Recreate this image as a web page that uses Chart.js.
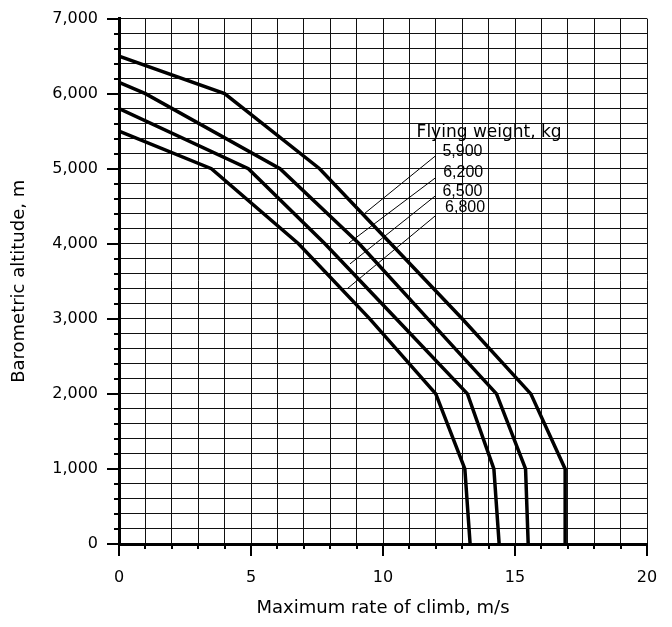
<!DOCTYPE html>
<html>
<head>
<meta charset="utf-8">
<script src="https://cdn.jsdelivr.net/npm/chart.js@4/dist/chart.umd.min.js"></script>
<style>
  html, body { margin: 0; padding: 0; background: #fff; }
  #wrap { width: 672px; height: 627px; }
</style>
</head>
<body>
<div id="wrap"><canvas id="climbChart"></canvas></div>
<script>
// curves: rate of climb (m/s) vs altitude (m), one per flying weight
const weights = ["5,900", "6,200", "6,500", "6,800"];
const rate5900 = [0, 4.0, 7.6, 10.3, 13.0, 15.6, 16.9, 16.9];
const alt5900  = [6500, 6000, 5000, 4000, 3000, 2000, 1000, 0];
const rate6200 = [0, 1.0, 6.1, 9.1, 11.7, 14.3, 15.4, 15.5];
const alt6200  = [6150, 6000, 5000, 4000, 3000, 2000, 1000, 0];
const rate6500 = [0, 4.9, 7.8, 10.5, 13.2, 14.2, 14.4];
const alt6500  = [5800, 5000, 4000, 3000, 2000, 1000, 0];
const rate6800 = [0, 3.5, 6.8, 9.5, 12.0, 13.1, 13.3];
const alt6800  = [5500, 5000, 4000, 3000, 2000, 1000, 0];

// leader lines from the weight labels to the curves
const leaderX = [[11.97, 9.32], [11.97, 8.71], [11.97, 8.75], [11.97, 8.64]];
const leaderY = [[5166, 4409], [4874, 4011], [4635, 3732], [4369, 3400]];
const labelX = [12.25, 12.28, 12.25, 12.35];
const labelY = [5226, 4947, 4701, 4482];
const legendTitle = "Flying weight, kg";
const legendTitlePos = [14.02, 5485];

const xTitle = "Maximum rate of climb, m/s";
const yTitle = "Barometric altitude, m";

function pts(xs, ys) {
    return xs.map((v, i) => ({x: v, y: ys[i]}));
}

const curves = [[rate5900, alt5900], [rate6200, alt6200], [rate6500, alt6500], [rate6800, alt6800]];
const datasets = [];
curves.forEach((c, i) => {
    datasets.push({
        label: weights[i],
        data: pts(c[0], c[1]),
        borderColor: '#000',
        borderWidth: 3.5,
        pointRadius: 0,
        tension: 0,
        borderJoinStyle: 'miter'
    });
});
leaderX.forEach((lx, i) => {
    datasets.push({
        label: 'leader' + i,
        data: pts(lx, leaderY[i]),
        borderColor: '#000',
        borderWidth: 1,
        pointRadius: 0
    });
});

// major/minor tick marks outside the axes
const tickMarks = {
    id: 'tickMarks',
    afterDraw(chart) {
        const ctx = chart.ctx;
        const xs = chart.scales.x, ys = chart.scales.y;
        ctx.save();
        ctx.strokeStyle = '#000';
        ctx.lineWidth = 2;
        xs.ticks.forEach(t => {
            const px = Math.round(xs.getPixelForValue(t.value));
            const len = t.value % 5 === 0 ? 12 : 5;
            ctx.beginPath();
            ctx.moveTo(px, xs.top);
            ctx.lineTo(px, xs.top + len);
            ctx.stroke();
        });
        ys.ticks.forEach(t => {
            const py = Math.round(ys.getPixelForValue(t.value));
            const len = t.value % 1000 === 0 ? 12 : 5;
            ctx.beginPath();
            ctx.moveTo(ys.right, py);
            ctx.lineTo(ys.right - len, py);
            ctx.stroke();
        });
        ctx.restore();
    }
};

// weight labels
const weightLabels = {
    id: 'weightLabels',
    afterDatasetsDraw(chart) {
        const ctx = chart.ctx;
        const xs = chart.scales.x, ys = chart.scales.y;
        ctx.save();
        ctx.fillStyle = '#000';
        ctx.textBaseline = 'middle';
        ctx.font = '17px "DejaVu Sans"';
        ctx.textAlign = 'center';
        ctx.fillText(legendTitle, xs.getPixelForValue(legendTitlePos[0]), ys.getPixelForValue(legendTitlePos[1]));
        ctx.font = '16px "Liberation Sans"';
        ctx.textAlign = 'left';
        weights.forEach((w, i) => {
            ctx.fillText(w, xs.getPixelForValue(labelX[i]), ys.getPixelForValue(labelY[i]));
        });
        ctx.restore();
    }
};

new Chart("climbChart", {
    type: "line",
    data: {datasets: datasets},
    options: {
        responsive: true,
        maintainAspectRatio: false,
        animation: false,
        layout: {padding: {top: 16, right: 25, left: 0, bottom: 0}},
        plugins: {
            legend: {display: false},
            tooltip: {enabled: false}
        },
        scales: {
            x: {
                type: 'linear',
                min: 0,
                max: 20,
                border: {color: '#000', width: 3},
                grid: {color: '#111', lineWidth: 1, tickLength: 12, tickColor: 'rgba(0,0,0,0)'},
                ticks: {
                    stepSize: 1,
                    autoSkip: false,
                    maxRotation: 0,
                    padding: 12,
                    color: '#000',
                    font: {family: 'DejaVu Sans', size: 16},
                    callback: v => (v % 5 === 0 ? String(v) : '')
                },
                title: {
                    display: true,
                    text: xTitle,
                    color: '#000',
                    font: {family: 'DejaVu Sans', size: 18},
                    padding: {top: 0, bottom: 8}
                },
                afterFit: s => { s.height = 83; }
            },
            y: {
                type: 'linear',
                min: 0,
                max: 7000,
                border: {color: '#000', width: 3},
                grid: {color: '#111', lineWidth: 1, tickLength: 12, tickColor: 'rgba(0,0,0,0)'},
                ticks: {
                    stepSize: 200,
                    autoSkip: false,
                    padding: 9,
                    color: '#000',
                    font: {family: 'DejaVu Sans', size: 16},
                    callback: v => (v % 1000 === 0 ? v.toLocaleString('en-US') : '')
                },
                title: {
                    display: true,
                    text: yTitle,
                    color: '#000',
                    font: {family: 'DejaVu Sans', size: 18},
                    padding: {top: 9, bottom: 0}
                },
                afterFit: s => { s.width = 119; }
            }
        }
    },
    plugins: [tickMarks, weightLabels]
});
</script>
</body>
</html>
